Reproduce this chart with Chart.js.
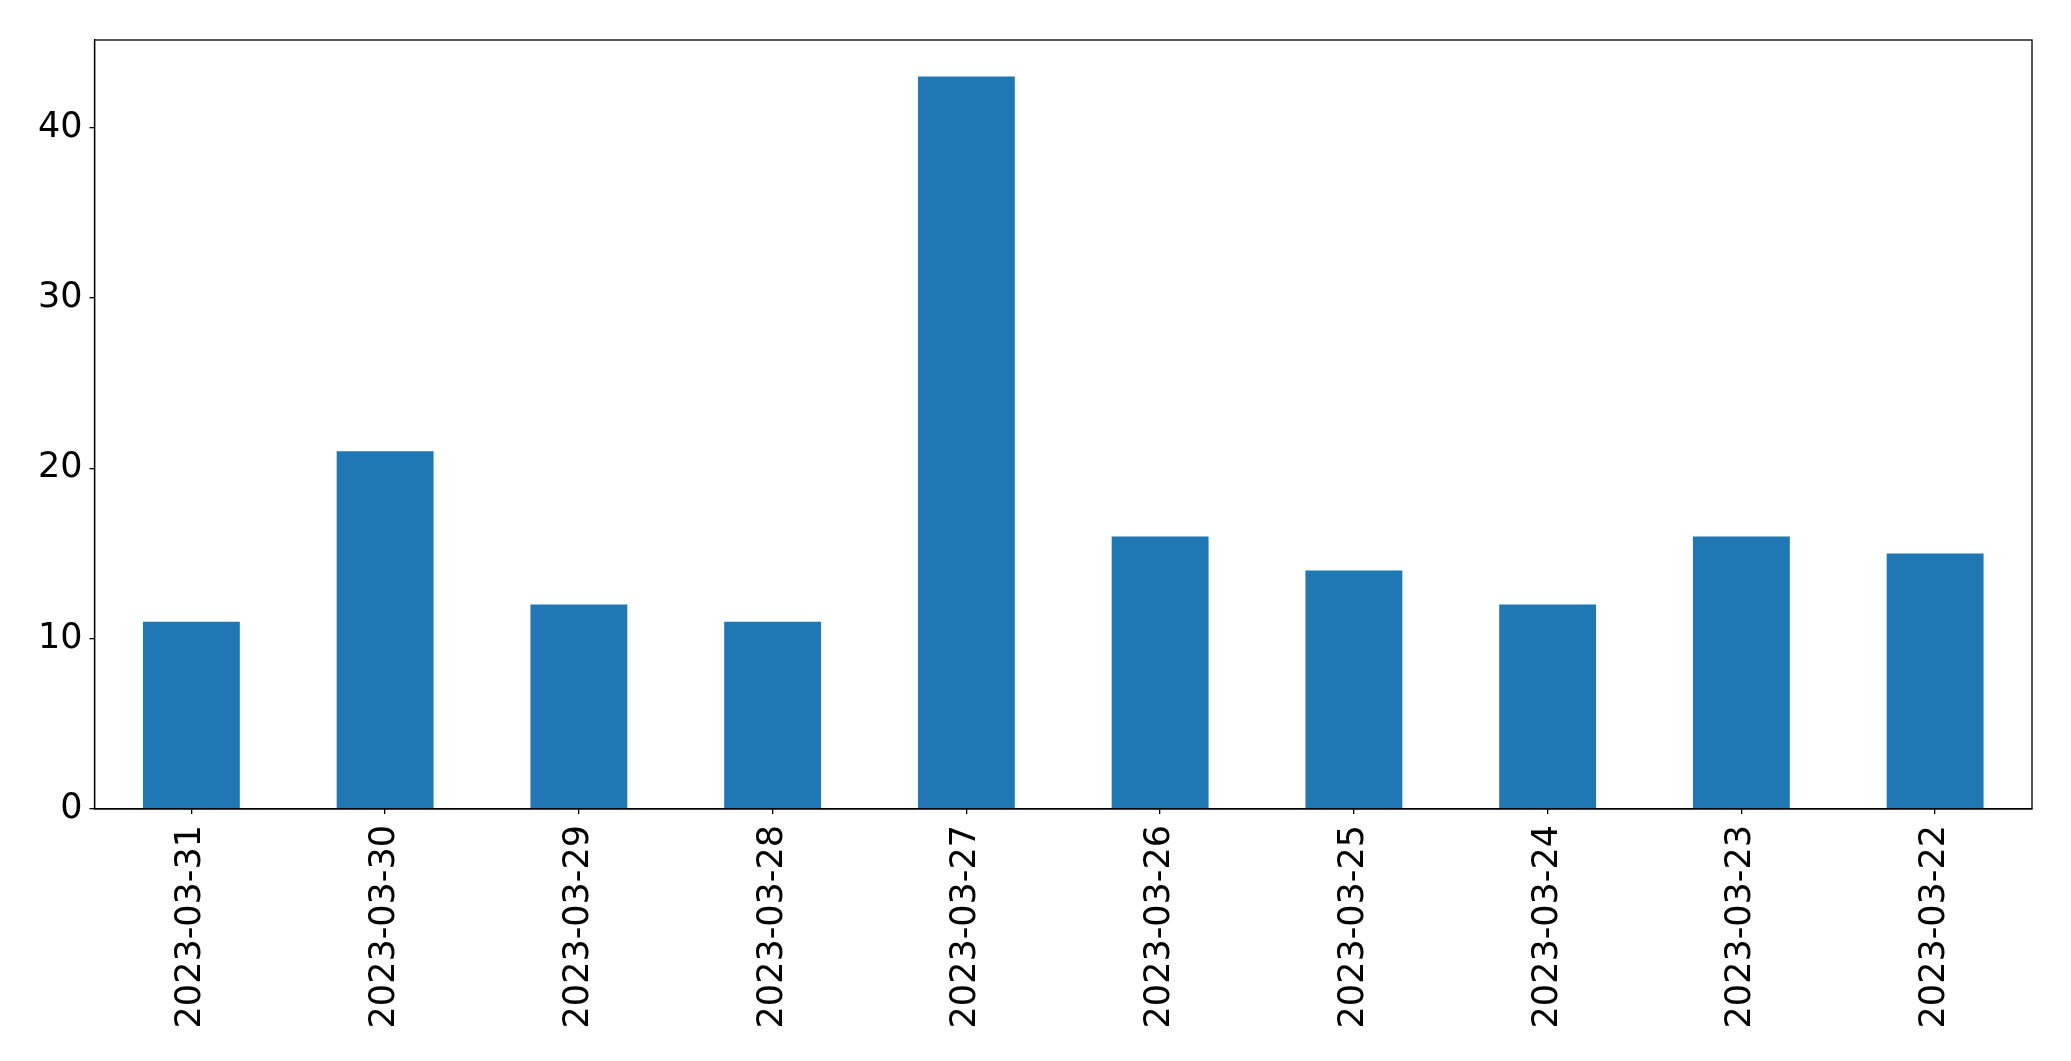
<!DOCTYPE html>
<html>
<head>
<meta charset="utf-8">
<script src="https://cdn.jsdelivr.net/npm/chart.js@4/dist/chart.umd.min.js"></script>
<style>
  html, body { margin: 0; padding: 0; background: #fff; }
  canvas { display: block; }
</style>
</head>
<body>
<canvas id="chart" width="2071" height="1061"></canvas>
<script>
var dates = ['2023-03-31', '2023-03-30', '2023-03-29', '2023-03-28', '2023-03-27',
             '2023-03-26', '2023-03-25', '2023-03-24', '2023-03-23', '2023-03-22'];
var counts = [11, 21, 12, 11, 43, 16, 14, 12, 16, 15];
var yTicks = [0, 10, 20, 30, 40];

// box around the plot area, like matplotlib's spines
var frameBox = {
    id: 'frameBox',
    afterDraw: function (chart) {
        var a = chart.chartArea;
        var ctx = chart.ctx;
        ctx.save();
        ctx.strokeStyle = '#000';
        ctx.lineWidth = 1.3;
        ctx.strokeRect(a.left, a.top, a.right - a.left, a.bottom - a.top);
        ctx.restore();
    }
};

var ctx = document.getElementById('chart').getContext('2d');
var myChart = new Chart(ctx, {
    type: 'bar',
    data: {
        labels: dates,
        datasets: [{
            data: counts,
            backgroundColor: '#1f77b4',
            borderWidth: 0,
            barPercentage: 0.5,
            categoryPercentage: 1.0
        }]
    },
    options: {
        responsive: false,
        animation: false,
        events: [],
        layout: { padding: { left: 0, top: 40, right: 39, bottom: 0 } },
        plugins: {
            legend: { display: false },
            tooltip: { enabled: false }
        },
        scales: {
            x: {
                offset: true,
                grid: { offset: false, drawOnChartArea: false, drawTicks: true, tickLength: 5, color: '#000', lineWidth: 1.3 },
                border: { display: true, color: '#000', width: 1.3 },
                ticks: {
                    minRotation: 90,
                    maxRotation: 90,
                    autoSkip: false,
                    padding: 11,
                    color: '#000',
                    font: { family: 'DejaVu Sans', size: 35 }
                },
                afterFit: function (scale) { scale.height = 252; }
            },
            y: {
                min: 0,
                max: 45.15,
                afterBuildTicks: function (scale) {
                    scale.ticks = yTicks.map(function (v) { return { value: v }; });
                },
                grid: { drawOnChartArea: false, drawTicks: true, tickLength: 5, color: '#000', lineWidth: 1.3 },
                border: { display: true, color: '#000', width: 1.3 },
                ticks: {
                    padding: 7,
                    color: '#000',
                    font: { family: 'DejaVu Sans', size: 35 }
                },
                afterFit: function (scale) { scale.width = 94.5; }
            }
        }
    },
    plugins: [frameBox]
});
</script>
</body>
</html>
